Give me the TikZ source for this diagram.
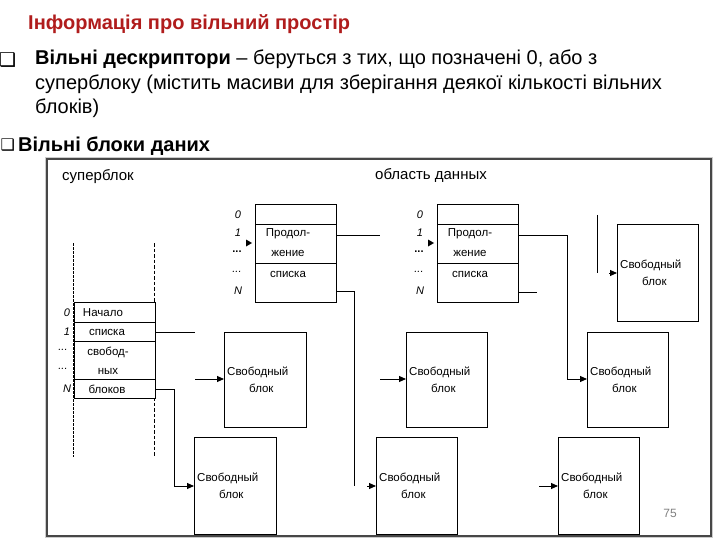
\documentclass[tikz,border=0pt]{standalone}
\usepackage{fontspec}
\setmainfont{Liberation Sans}
\newfontfamily\dejavu{DejaVu Sans}
\usetikzlibrary{arrows.meta}
\definecolor{titlered}{RGB}{176,28,28}
\begin{document}
\begin{tikzpicture}[x=1pt,y=-1pt,
  fbox/.style={draw, line width=1.3pt, fill=white, inner sep=0pt, anchor=north west},
  tbl/.style={draw, line width=1.4pt, fill=white, inner sep=0pt, anchor=north west, minimum width=81pt},
  cellt/.style={inner sep=0pt, font=\fontsize{11.5}{12}\selectfont},
  idx/.style={inner sep=0pt, font=\fontsize{11}{12}\selectfont\itshape},
  lbl/.style={inner sep=0pt, font=\fontsize{15}{17}\selectfont},
  btxt/.style={inner sep=0pt, font=\fontsize{11.5}{12}\selectfont, anchor=west},
  conn/.style={line width=0.9pt},
  arr/.style={line width=0.9pt, -{Triangle[length=7pt,width=6pt]}}
]
\useasboundingbox (0,0) rectangle (720,540);
\clip (0,0) rectangle (720,540);

% ---------- header text ----------
\node[inner sep=0pt, anchor=base west, text=titlered, font=\fontsize{20}{22}\selectfont\bfseries]
  (title) at (28,30) {Інформація про вільний простір};
\node[inner sep=0pt, anchor=base west, font=\fontsize{19}{20}\selectfont\dejavu] (b1) at (-1,67) {❑};
\node[inner sep=0pt, anchor=north west, align=left, font=\fontsize{20}{24.5}\selectfont]
  (p1) at (35,50) {\textbf{Вільні дескриптори} – беруться з тих, що позначені 0, або з\\
  суперблоку (містить масиви для зберігання деякої кількості вільних\\
  блоків)};
\node[inner sep=0pt, anchor=base west, font=\fontsize{16}{18}\selectfont\dejavu] (b2) at (0.5,151) {❑};
\node[inner sep=0pt, anchor=base west, font=\fontsize{20}{22}\selectfont\bfseries]
  (p2) at (18,152) {Вільні блоки даних};

% ---------- frame ----------
\draw[gray!40, line width=1pt] (45.5,157.5) rectangle (712.5,537.5);
\draw[black!72, line width=1.5pt] (47,159) rectangle (711,536);

\node[lbl, anchor=west] (lsb) at (62,177) {суперблок};
\node[lbl, anchor=west] (lda) at (375,175) {область данных};

% ---------- superblock dashed columns ----------
\draw[line width=1.6pt, dash pattern=on 2.5pt off 1.5pt] (73.5,243) -- (73.5,457);
\draw[line width=0.7pt, dash pattern=on 3.5pt off 2pt] (154.5,243) -- (154.5,457);

% ---------- superblock table ----------
\node[tbl, minimum height=96pt] (sb) at (74,302) {};
\draw[line width=0.9pt] (74,322) -- (155,322) (74,341) -- (155,341) (74,379) -- (155,379);
\node[cellt] (s1) at (103,313) {Начало};
\node[cellt] (s2) at (107,332) {списка};
\node[cellt] (s3) at (108,352) {свобод-};
\node[cellt] (s4) at (108,371) {ных};
\node[cellt] (s5) at (107,389) {блоков};
\node[idx] (si0) at (67,313) {0};
\node[idx] (si1) at (67,332) {1};
\node[idx] (si2) at (63,350) {...};
\node[idx] (si3) at (63,369) {...};
\node[idx] (si4) at (67,389) {N};

% ---------- descriptor table 1 ----------
\node[tbl, minimum height=98pt] (t1) at (255,204) {};
\draw[line width=0.9pt] (255,224) -- (336,224) (255,263) -- (336,263);
\node[cellt] (t1a) at (288,234) {Продол-};
\node[cellt] (t1b) at (288,253) {жение};
\node[cellt] (t1c) at (288,274) {списка};
\node[idx] (t1i0) at (238,215) {0};
\node[idx] (t1i1) at (238,233) {1};
\node[idx,font=\fontsize{11}{12}\selectfont\bfseries] (t1i2) at (237,252) {...};
\node[idx] (t1i3) at (237,272) {...};
\node[idx] (t1i4) at (238,291) {N};
\fill (246,239.5) -- (252,243) -- (246,246.5) -- cycle;

% ---------- descriptor table 2 ----------
\node[tbl, minimum height=98pt] (t2) at (437,204) {};
\draw[line width=0.9pt] (437,224) -- (518,224) (437,263) -- (518,263);
\node[cellt] (t2a) at (470,234) {Продол-};
\node[cellt] (t2b) at (470,253) {жение};
\node[cellt] (t2c) at (470,274) {списка};
\node[idx] (t2i0) at (420,215) {0};
\node[idx] (t2i1) at (420,233) {1};
\node[idx,font=\fontsize{11}{12}\selectfont\bfseries] (t2i2) at (419,252) {...};
\node[idx] (t2i3) at (419,272) {...};
\node[idx] (t2i4) at (420,291) {N};
\fill (428,239.5) -- (434,243) -- (428,246.5) -- cycle;

% ---------- free blocks ----------
\node[fbox, minimum width=82pt, minimum height=95pt] (A) at (224,332) {};
\node[fbox, minimum width=81pt, minimum height=95pt] (D) at (406,332) {};
\node[fbox, minimum width=81pt, minimum height=95pt] (E) at (587,332) {};
\node[fbox, minimum width=82pt, minimum height=97pt] (B) at (194,437) {};
\node[fbox, minimum width=81pt, minimum height=97pt] (C) at (376,437) {};
\node[fbox, minimum width=81pt, minimum height=97pt] (F) at (558,437) {};
\node[fbox, minimum width=81pt, minimum height=97pt] (G) at (617,224) {};

\foreach \b in {A,B,C,D,E,F,G}{
  \node[btxt] (\b1) at ([xshift=3pt,yshift=8pt]\b.west) {Свободный};
  \node[btxt] (\b2) at ([xshift=25pt,yshift=-8pt]\b.west) {блок};
}

% ---------- connectors ----------
\coordinate (k1) at (195,332);
\coordinate (k2) at (195,379);
\coordinate (k3) at (174,486);
\draw[conn] (sb.east |- s2) -- (k1);
\draw[arr] (k2) -- (A.west |- k2);
\draw[arr] (sb.east |- s5) -| (k3) -- (B.west |- k3);

\coordinate (m1) at (380,235);
\coordinate (m2) at (380,379);
\coordinate (m3) at (354,486);
\coordinate (m4) at (367,486);
\draw[conn] (t1.east |- m1) -- (m1);
\draw[arr] (m2) -- (D.west |- m2);
\draw[conn] (t1.east |- t1i4) -| (m3);
\draw[arr] (m4) -- (C.west |- m4);

\coordinate (n1) at (567,379);
\coordinate (n2) at (537,292);
\coordinate (n3) at (597,215);
\coordinate (n4) at (597,273);
\coordinate (n5) at (609,273);
\coordinate (n6) at (539,486);
\draw[arr] (t2.east |- m1) -| (n1) -- (E.west |- n1);
\draw[conn] (t2.east |- n2) -- (n2);
\draw[conn] (n3) -- (n4);
\draw[arr] (n5) -- (G.west |- n5);
\draw[arr] (n6) -- (F.west |- n6);

\node[inner sep=0pt, text=gray, font=\fontsize{12}{13}\selectfont] (pg) at (670,513) {75};
\end{tikzpicture}
\end{document}
